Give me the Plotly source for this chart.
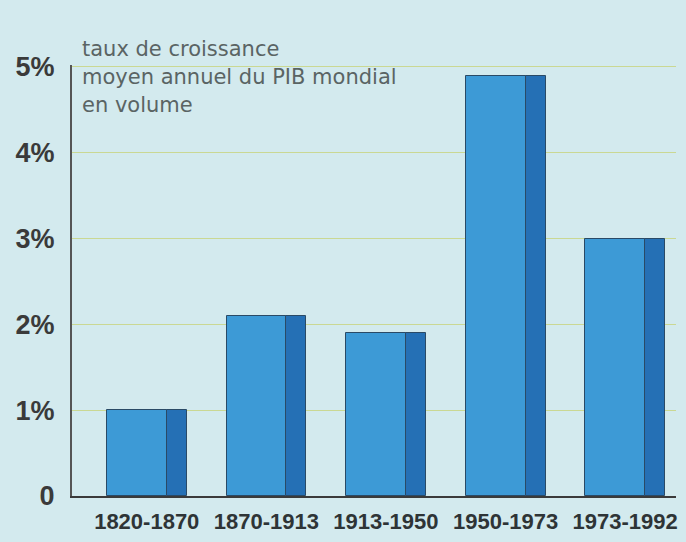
import plotly.graph_objects as go

periods = ["1820-1870", "1870-1913", "1913-1950", "1950-1973", "1973-1992"]
growth = [1.0, 2.1, 1.9, 4.9, 3.0]
ytick_vals = [0, 1, 2, 3, 4, 5]
ytick_text = ["0", "1%", "2%", "3%", "4%", "5%"]
title_lines = ["taux de croissance", "moyen annuel du PIB mondial", "en volume"]

xs = list(range(len(periods)))

fig = go.Figure()
# front face
fig.add_trace(go.Bar(
    x=xs, y=growth, offset=-0.333, width=0.5,
    marker=dict(color="#3d9ad6", line=dict(color="#2a4a66", width=1)),
    hoverinfo="skip", showlegend=False))
# side face (3D effect)
fig.add_trace(go.Bar(
    x=xs, y=growth, offset=0.167, width=0.167,
    marker=dict(color="#2570b5", line=dict(color="#2a4a66", width=1)),
    hoverinfo="skip", showlegend=False))

# title lines, one annotation per line
line_y = [1.037, 0.972, 0.908]
for txt, yy in zip(title_lines, line_y):
    fig.add_annotation(
        text=txt, xref="paper", yref="paper",
        x=0.013, y=yy, xanchor="left", yanchor="middle", align="left",
        showarrow=False,
        font=dict(family="DejaVu Sans", size=21, color="#5a6464"))

fig.update_layout(
    width=686, height=542,
    margin=dict(l=72, r=8, t=65, b=45),
    paper_bgcolor="#d3eaee", plot_bgcolor="#d3eaee",
    barmode="overlay", bargap=0,
    font=dict(family="Liberation Sans", color="#333333"),
)
fig.update_xaxes(
    range=[-0.625, 4.425], tickmode="array", tickvals=xs, ticktext=periods,
    tickfont=dict(size=22, color="#2e3436", family="Liberation Sans", weight="bold"),
    showgrid=False, zeroline=False, showline=True, linecolor="#3a3a3a", linewidth=2,
    ticks="", ticklabelstandoff=5, fixedrange=True)
fig.update_yaxes(
    range=[0, 5.023], tickmode="array", tickvals=ytick_vals, ticktext=ytick_text,
    tickfont=dict(size=27, color="#3a3a3a", family="Liberation Sans", weight="bold"),
    showgrid=True, gridcolor="#cad893", gridwidth=1,
    zeroline=False, showline=True, linecolor="#555555", linewidth=2,
    ticks="", ticklabelstandoff=10, fixedrange=True)

fig.write_html("out.html", config={"displayModeBar": False},
               post_script="document.body.style.margin='0';")
